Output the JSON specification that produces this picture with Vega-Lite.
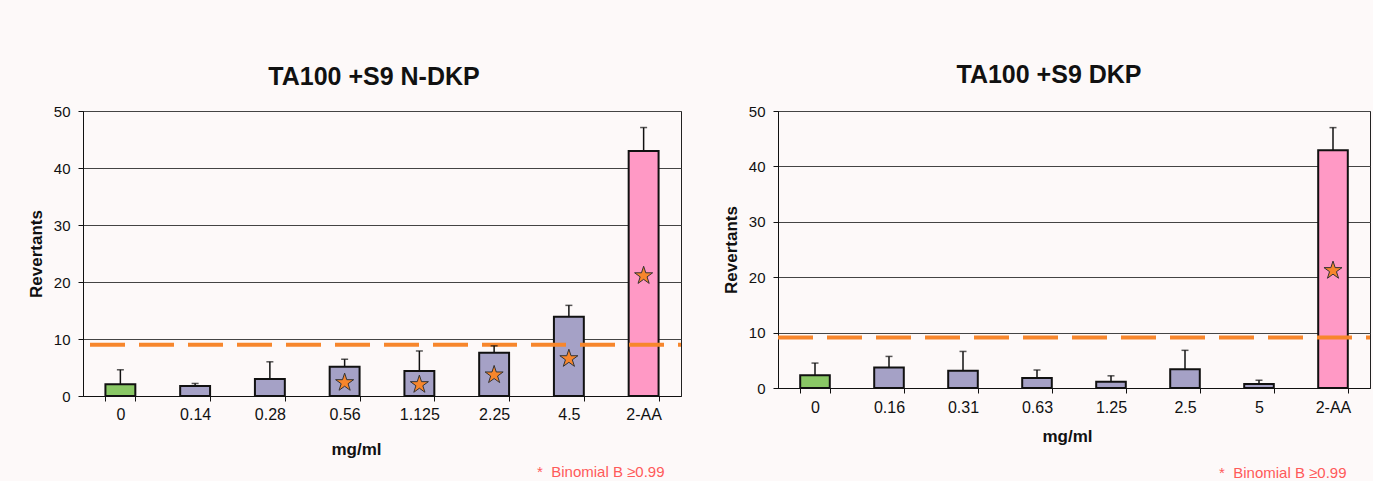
{
  "$schema": "https://vega.github.io/schema/vega-lite/v6.json",
  "background": "#fdf9f9",
  "padding": {"left": 26, "top": 62, "right": 0, "bottom": 0},
  "config": {
    "font": "Liberation Sans",
    "view": {"stroke": "#222", "strokeWidth": 1},
    "title": {"color": "#111"}
  },
  "datasets": {
    "ndkp": [
      {"dose": "0", "group": "Vehicle", "mean": 2.05, "upper": 4.6, "star": null},
      {"dose": "0.14", "group": "Test article", "mean": 1.75, "upper": 2.2, "star": null},
      {"dose": "0.28", "group": "Test article", "mean": 3.0, "upper": 6.0, "star": null},
      {"dose": "0.56", "group": "Test article", "mean": 5.15, "upper": 6.45, "star": 2.35},
      {"dose": "1.125", "group": "Test article", "mean": 4.4, "upper": 7.9, "star": 2.0},
      {"dose": "2.25", "group": "Test article", "mean": 7.6, "upper": 8.8, "star": 3.7},
      {"dose": "4.5", "group": "Test article", "mean": 13.9, "upper": 15.9, "star": 6.55},
      {"dose": "2-AA", "group": "2-AA", "mean": 43.0, "upper": 47.1, "star": 21.1}
    ],
    "dkp": [
      {"dose": "0", "group": "Vehicle", "mean": 2.3, "upper": 4.5, "star": null},
      {"dose": "0.16", "group": "Test article", "mean": 3.7, "upper": 5.7, "star": null},
      {"dose": "0.31", "group": "Test article", "mean": 3.1, "upper": 6.6, "star": null},
      {"dose": "0.63", "group": "Test article", "mean": 1.8, "upper": 3.25, "star": null},
      {"dose": "1.25", "group": "Test article", "mean": 1.15, "upper": 2.2, "star": null},
      {"dose": "2.5", "group": "Test article", "mean": 3.4, "upper": 6.8, "star": null},
      {"dose": "5", "group": "Test article", "mean": 0.7, "upper": 1.4, "star": null},
      {"dose": "2-AA", "group": "2-AA", "mean": 42.9, "upper": 47.0, "star": 21.2}
    ],
    "threshold_ndkp": [{"threshold": 9.0}],
    "threshold_dkp": [{"threshold": 9.1}]
  },
  "spacing": 37,
  "align": "none",
  "hconcat": [
    {
      "title": {"text": "*\u00a0 Binomial B ≥0.99", "orient": "bottom", "anchor": "end", "frame": "bounds", "fontSize": 15, "fontWeight": "normal", "color": "#ff5a5a", "dx": -19, "offset": 7},
      "vconcat": [
        {
          "width": 598,
          "height": 285,
          "title": {"text": "TA100 +S9 N-DKP", "fontSize": 25, "fontWeight": "bold", "frame": "group", "anchor": "middle", "dx": -8, "offset": 14},
          "layer": [
            {
              "data": {"name": "ndkp"},
              "mark": {"type": "bar", "stroke": "#111", "strokeWidth": 2},
              "encoding": {
                "x": {"field": "dose", "type": "nominal", "sort": null,
                  "scale": {"paddingInner": 0.6, "paddingOuter": 0.3},
                  "axis": {"title": "mg/ml", "labelAngle": 0, "labelFontSize": 16, "labelPadding": 5, "labelColor": "#111", "tickBand": "extent", "tickSize": 5, "tickColor": "#111", "domainColor": "#111", "titleFontSize": 17, "titleFontWeight": "bold", "titleColor": "#111", "titleX": 273, "titleY": 53, "titleBaseline": "middle", "titleAlign": "center"}},
                "y": {"field": "mean", "type": "quantitative",
                  "scale": {"domain": [0, 50], "nice": false},
                  "axis": {"title": "Revertants", "values": [0, 10, 20, 30, 40, 50], "labelFontSize": 15, "labelPadding": 8, "labelColor": "#111", "tickSize": 5, "tickColor": "#111", "domainColor": "#111", "grid": true, "gridColor": "#444", "titleFontSize": 17, "titleFontWeight": "bold", "titleColor": "#111", "titlePadding": 8}},
                "color": {"field": "group", "type": "nominal", "legend": null,
                  "scale": {"domain": ["Vehicle", "Test article", "2-AA"], "range": ["#89c765", "#a5a1c6", "#ff99c5"]}}
              }
            },
            {
              "data": {"name": "threshold_ndkp"},
              "mark": {"type": "rule", "color": "#f7862c", "strokeWidth": 4, "strokeDash": [35, 14], "strokeDashOffset": 32},
              "encoding": {"y": {"field": "threshold", "type": "quantitative"}}
            },
            {
              "data": {"name": "ndkp"},
              "mark": {"type": "rule", "color": "#111", "strokeWidth": 1.5},
              "encoding": {
                "x": {"field": "dose", "type": "nominal", "sort": null},
                "y": {"field": "mean", "type": "quantitative"},
                "y2": {"field": "upper"}
              }
            },
            {
              "data": {"name": "ndkp"},
              "mark": {"type": "tick", "color": "#111", "size": 7, "thickness": 1.5, "orient": "horizontal"},
              "encoding": {
                "x": {"field": "dose", "type": "nominal", "sort": null},
                "y": {"field": "upper", "type": "quantitative"}
              }
            },
            {
              "data": {"name": "ndkp"},
              "transform": [{"filter": "datum.star != null"}],
              "mark": {"type": "point", "filled": true, "fill": "#f7862c", "stroke": "#333", "strokeWidth": 1, "opacity": 1, "size": 360,
                "shape": "M0,-1 L0.2245,-0.309 L0.951,-0.309 L0.363,0.118 L0.588,0.809 L0,0.382 L-0.588,0.809 L-0.363,0.118 L-0.951,-0.309 L-0.2245,-0.309 Z"},
              "encoding": {
                "x": {"field": "dose", "type": "nominal", "sort": null},
                "y": {"field": "star", "type": "quantitative"}
              }
            }
          ]
        }
      ]
    },
    {
      "title": {"text": "*\u00a0 Binomial B ≥0.99", "orient": "bottom", "anchor": "end", "frame": "bounds", "fontSize": 15, "fontWeight": "normal", "color": "#ff5a5a", "dx": -26, "offset": 21},
      "vconcat": [
        {
          "width": 592,
          "height": 277,
          "title": {"text": "TA100 +S9 DKP", "fontSize": 25, "fontWeight": "bold", "frame": "group", "anchor": "middle", "dx": -25, "offset": 16},
          "layer": [
            {
              "data": {"name": "dkp"},
              "mark": {"type": "bar", "stroke": "#111", "strokeWidth": 2},
              "encoding": {
                "x": {"field": "dose", "type": "nominal", "sort": null,
                  "scale": {"paddingInner": 0.6, "paddingOuter": 0.3},
                  "axis": {"title": "mg/ml", "labelAngle": 0, "labelFontSize": 16, "labelPadding": 6, "labelColor": "#111", "tickBand": "extent", "tickSize": 5, "tickColor": "#111", "domainColor": "#111", "titleFontSize": 17, "titleFontWeight": "bold", "titleColor": "#111", "titleX": 289, "titleY": 48, "titleBaseline": "middle", "titleAlign": "center"}},
                "y": {"field": "mean", "type": "quantitative",
                  "scale": {"domain": [0, 50], "nice": false},
                  "axis": {"title": "Revertants", "values": [0, 10, 20, 30, 40, 50], "labelFontSize": 15, "labelPadding": 8, "labelColor": "#111", "tickSize": 5, "tickColor": "#111", "domainColor": "#111", "grid": true, "gridColor": "#444", "titleFontSize": 17, "titleFontWeight": "bold", "titleColor": "#111", "titlePadding": 8}},
                "color": {"field": "group", "type": "nominal", "legend": null,
                  "scale": {"domain": ["Vehicle", "Test article", "2-AA"], "range": ["#89c765", "#a5a1c6", "#ff99c5"]}}
              }
            },
            {
              "data": {"name": "threshold_dkp"},
              "mark": {"type": "rule", "color": "#f7862c", "strokeWidth": 4, "strokeDash": [35, 14], "strokeDashOffset": 31},
              "encoding": {"y": {"field": "threshold", "type": "quantitative"}}
            },
            {
              "data": {"name": "dkp"},
              "mark": {"type": "rule", "color": "#111", "strokeWidth": 1.5},
              "encoding": {
                "x": {"field": "dose", "type": "nominal", "sort": null},
                "y": {"field": "mean", "type": "quantitative"},
                "y2": {"field": "upper"}
              }
            },
            {
              "data": {"name": "dkp"},
              "mark": {"type": "tick", "color": "#111", "size": 7, "thickness": 1.5, "orient": "horizontal"},
              "encoding": {
                "x": {"field": "dose", "type": "nominal", "sort": null},
                "y": {"field": "upper", "type": "quantitative"}
              }
            },
            {
              "data": {"name": "dkp"},
              "transform": [{"filter": "datum.star != null"}],
              "mark": {"type": "point", "filled": true, "fill": "#f7862c", "stroke": "#333", "strokeWidth": 1, "opacity": 1, "size": 360,
                "shape": "M0,-1 L0.2245,-0.309 L0.951,-0.309 L0.363,0.118 L0.588,0.809 L0,0.382 L-0.588,0.809 L-0.363,0.118 L-0.951,-0.309 L-0.2245,-0.309 Z"},
              "encoding": {
                "x": {"field": "dose", "type": "nominal", "sort": null},
                "y": {"field": "star", "type": "quantitative"}
              }
            }
          ]
        }
      ]
    }
  ]
}
